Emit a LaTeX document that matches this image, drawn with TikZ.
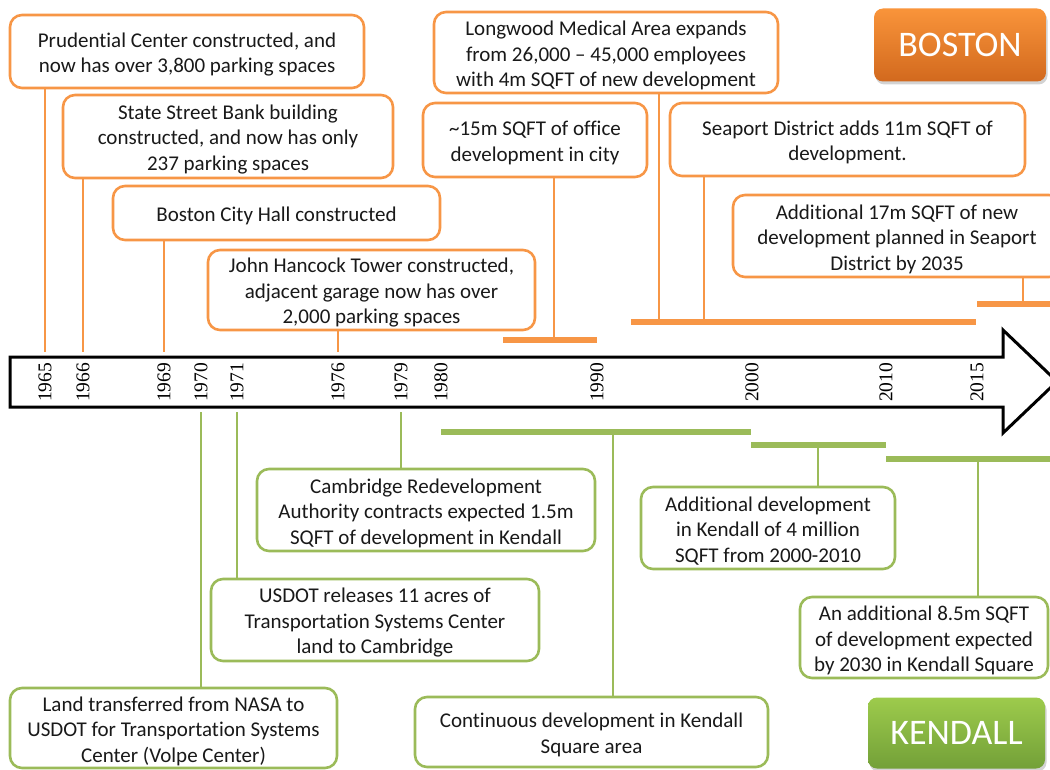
\documentclass[tikz,border=0pt]{standalone}
\usepackage{fontspec}
\setmainfont{Carlito}[Ligatures=NoCommon]
\newfontfamily\yearfont{Liberation Serif}
\usetikzlibrary{shadows}
\newcommand\fls{\rule{0pt}{20.5pt}}
\definecolor{borange}{HTML}{F79646}
\definecolor{bgreen}{HTML}{9BBB59}
\definecolor{otop}{HTML}{F9943A}
\definecolor{obot}{HTML}{D2691E}
\definecolor{gtop}{HTML}{9DCB4C}
\definecolor{gbot}{HTML}{73A038}
\tikzset{
  evbox/.style={rectangle, rounded corners=12pt, fill=white, line width=2.6pt,
    align=center, inner sep=0pt, font=\fontsize{21}{25.5}\selectfont, text=black!90},
  obox/.style={evbox, draw=borange},
  gbox/.style={evbox, draw=bgreen},
  oconn/.style={draw=borange, line width=1.6pt},
  gconn/.style={draw=bgreen, line width=1.6pt},
  obar/.style={draw=borange, line width=6pt},
  gbar/.style={draw=bgreen, line width=6pt},
  yearlbl/.style={rotate=90, anchor=west, inner sep=0pt, font=\yearfont\fontsize{19.5}{19.5}\selectfont},
  button/.style={rectangle, rounded corners=9pt, text=white, inner sep=0pt,
    font=\fontsize{36}{36}\selectfont,
    drop shadow={shadow xshift=1.5pt, shadow yshift=-3pt, opacity=0.35}}
}
\begin{document}
\begin{tikzpicture}[x=1pt,y=-1pt]
\useasboundingbox (0,0) rectangle (1050,770);
\clip (0,0) rectangle (1050,770);

% timeline arrow
\draw[line width=3pt, fill=white, line join=miter]
  (10,357) -- (1003,357) -- (1003,330) -- (1057,381.5) -- (1003,433) -- (1003,407) -- (10,407) -- cycle;

% year labels
\foreach \x/\y in {45/1965, 83/1966, 164/1969, 201/1970, 237/1971, 338/1976, 401/1979, 441/1980, 597/1990, 752/2000, 886/2010, 977/2015}
  \node[yearlbl] (y\y) at (\x,402) {\y};

% anchor coordinates on the arrow
\coordinate (a1965) at (45,352);
\coordinate (a1966) at (83,352);
\coordinate (a1969) at (164,352);
\coordinate (a1976) at (338,352);
\coordinate (a1970) at (201,412);
\coordinate (a1971) at (237,412);
\coordinate (a1979) at (401,412);

% bars
\coordinate (ob1l) at (503,340); \coordinate (ob1r) at (597,340);
\coordinate (ob2l) at (631,322); \coordinate (ob2r) at (976,322);
\coordinate (ob3l) at (977,304); \coordinate (ob3r) at (1052,304);
\coordinate (gb1l) at (441,432); \coordinate (gb1r) at (751,432);
\coordinate (gb2l) at (751,445); \coordinate (gb2r) at (886,445);
\coordinate (gb3l) at (886,459); \coordinate (gb3r) at (1052,459);
\draw[obar] (ob1l) -- (ob1r);
\draw[obar] (ob2l) -- (ob2r);
\draw[obar] (ob3l) -- (ob3r);
\draw[gbar] (gb1l) -- (gb1r);
\draw[gbar] (gb2l) -- (gb2r);
\draw[gbar] (gb3l) -- (gb3r);
\coordinate (c15) at (554,340);
\coordinate (cLong) at (659,322);
\coordinate (cSea) at (704,322);
\coordinate (c17) at (1023,304);
\coordinate (cCont) at (613,432);
\coordinate (cAdd) at (818,445);
\coordinate (c85) at (978,459);

% orange boxes
\node[obox, minimum width=354pt, minimum height=73pt] (pru) at (187,51.5)
  {\fls Prudential Center constructed, and\\now has over 3,800 parking spaces};
\node[obox, minimum width=330pt, minimum height=83pt] (state) at (228,136.5)
  {\fls State Street Bank building\\constructed, and now has only\\237 parking spaces};
\node[obox, minimum width=327pt, minimum height=54pt] (city) at (276.5,213)
  {\fls Boston City Hall constructed};
\node[obox, minimum width=327pt, minimum height=80pt] (hanc) at (371.5,290)
  {\fls John Hancock Tower constructed,\\adjacent garage now has over\\2,000 parking spaces};
\node[obox, minimum width=224pt, minimum height=74pt] (sq15) at (535,140)
  {\fls\textasciitilde15m SQFT of office\\development in city};
\node[obox, minimum width=344pt, minimum height=81pt] (long) at (606,52.5)
  {\fls Longwood Medical Area expands\\from 26,000 -- 45,000 employees\\with 4m SQFT of new development};
\node[obox, minimum width=355pt, minimum height=73pt] (sea) at (847.5,139.5)
  {\fls Seaport District adds 11m SQFT of\\development.};
\node[obox, minimum width=328pt, minimum height=82pt] (add17) at (897,236)
  {\fls Additional 17m SQFT of new\\development planned in Seaport\\District by 2035};

% green boxes
\node[gbox, minimum width=338pt, minimum height=82pt] (cam) at (426,510)
  {\fls Cambridge Redevelopment\\Authority contracts expected 1.5m\\SQFT of development in Kendall};
\node[gbox, minimum width=328pt, minimum height=82pt] (usdot) at (375,620)
  {\fls USDOT releases 11 acres of\\Transportation Systems Center\\land to Cambridge};
\node[gbox, minimum width=327pt, minimum height=80pt] (land) at (173.5,728)
  {\fls Land transferred from NASA to\\USDOT for Transportation Systems\\Center (Volpe Center)};
\node[gbox, minimum width=353pt, minimum height=70pt] (cont) at (591.5,732)
  {\fls Continuous development in Kendall\\Square area};
\node[gbox, minimum width=254pt, minimum height=82pt] (adddev) at (768,528)
  {\fls Additional development\\in Kendall of 4 million\\SQFT from 2000-2010};
\node[gbox, minimum width=248pt, minimum height=81pt] (add85) at (924,637.5)
  {\fls An additional 8.5m SQFT\\of development expected\\by 2030 in Kendall Square};

% connectors (orange)
\draw[oconn] (a1965 |- pru.south) -- (a1965);
\draw[oconn] (a1966 |- state.south) -- (a1966);
\draw[oconn] (a1969 |- city.south) -- (a1969);
\draw[oconn] (a1976 |- hanc.south) -- (a1976);
\draw[oconn] (c15 |- sq15.south) -- (c15);
\draw[oconn] (cLong |- long.south) -- (cLong);
\draw[oconn] (cSea |- sea.south) -- (cSea);
\draw[oconn] (c17 |- add17.south) -- (c17);

% connectors (green)
\draw[gconn] (a1970) -- (a1970 |- land.north);
\draw[gconn] (a1971) -- (a1971 |- usdot.north);
\draw[gconn] (a1979) -- (a1979 |- cam.north);
\draw[gconn] (cCont) -- (cCont |- cont.north);
\draw[gconn] (cAdd) -- (cAdd |- adddev.north);
\draw[gconn] (c85) -- (c85 |- add85.north);

% city buttons
\node[button, top color=otop, bottom color=obot, minimum width=172pt, minimum height=73pt] (boston) at (960,45) {BOSTON};
\node[button, top color=gtop, bottom color=gbot, minimum width=177pt, minimum height=71pt] (kendall) at (956.5,733) {KENDALL};
\end{tikzpicture}
\end{document}
